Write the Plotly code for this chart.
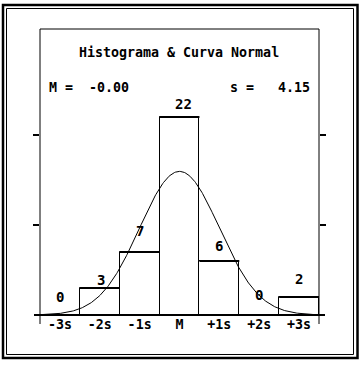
import math
import plotly.graph_objects as go

# ---- data ----
bin_labels = ["-3s", "-2s", "-1s", "M", "+1s", "+2s", "+3s"]
bin_centers = [-3, -2, -1, 0, 1, 2, 3]   # in units of s from the mean
counts = [0, 3, 7, 22, 6, 0, 2]
mean_text = "-0.00"
sd_text = "4.15"
title_text = "Histograma & Curva Normal"

# label placement tweaks (pixels)
label_yshift = [18, 8, 21, 13, 15, 20, 18]
label_xshift = [0, 1, 0, 4, 0, 0, 0]

n = sum(counts)
# normal curve scaled to the histogram (bin width = 1 s)
curve_x = [-3.5 + i * 7.0 / 400 for i in range(401)]
curve_y = [n * math.exp(-z * z / 2) / math.sqrt(2 * math.pi) for z in curve_x]

# heavier bar tops, derived from the counts
top_x, top_y = [], []
for xc, c in zip(bin_centers, counts):
    if c > 0:
        top_x += [xc - 0.5, xc + 0.5, None]
        top_y += [c, c, None]

FONT = "DejaVu Sans Mono"
W, H = 362, 365
L, R, T, B = 40, 43, 29, 50
PW, PH = W - L - R, H - T - B
YMAX = PH / 9.0

def px(xp):
    return (xp - L) / PW

def py(yp):
    return (H - B - yp) / PH

def bold(s):
    return "<b>" + s + "</b>"

fig = go.Figure()
fig.add_trace(go.Bar(
    x=bin_centers, y=counts, width=1.0,
    marker=dict(color="white", line=dict(color="black", width=1)),
    hoverinfo="skip", showlegend=False,
))
fig.add_trace(go.Scatter(
    x=top_x, y=top_y, mode="lines", connectgaps=False,
    line=dict(color="black", width=2), hoverinfo="skip", showlegend=False,
))
fig.add_trace(go.Scatter(
    x=curve_x, y=curve_y, mode="lines", yaxis="y2",
    line=dict(color="black", width=1), hoverinfo="skip", showlegend=False,
))

annotations = []
for xc, c, ys, xs in zip(bin_centers, counts, label_yshift, label_xshift):
    annotations.append(dict(
        x=xc, y=c, xref="x", yref="y", text=bold(str(c)), showarrow=False,
        yanchor="middle", xanchor="center", yshift=ys, xshift=xs,
        font=dict(family=FONT, size=14, color="black"),
    ))
annotations.append(dict(
    x=px(179), y=py(52), xref="paper", yref="paper", text=bold(title_text),
    showarrow=False, xanchor="center", yanchor="middle",
    font=dict(family=FONT, size=13.3, color="black"),
))
annotations.append(dict(
    x=px(47), y=py(87), xref="paper", yref="paper",
    text=bold("M\u00a0=\u00a0\u00a0" + mean_text),
    showarrow=False, xanchor="left", yanchor="middle",
    font=dict(family=FONT, size=13.3, color="black"),
))
annotations.append(dict(
    x=px(312), y=py(87), xref="paper", yref="paper",
    text=bold("s\u00a0=\u00a0\u00a0\u00a0" + sd_text),
    showarrow=False, xanchor="right", yanchor="middle",
    font=dict(family=FONT, size=13.3, color="black"),
))

shapes = [
    # frame of the chart
    dict(type="line", xref="paper", yref="paper", x0=0, x1=1, y0=1, y1=1,
         line=dict(color="black", width=1)),
    dict(type="line", xref="paper", yref="paper", x0=0, x1=0, y0=py(324), y1=1,
         line=dict(color="black", width=1)),
    dict(type="line", xref="paper", yref="paper", x0=1, x1=1, y0=py(324), y1=1,
         line=dict(color="black", width=1)),
    dict(type="line", xref="paper", yref="paper", x0=px(34), x1=px(325), y0=0, y1=0,
         line=dict(color="black", width=2)),
    # double page border
    dict(type="rect", xref="paper", yref="paper", x0=px(3), x1=px(357.5),
         y0=py(358), y1=py(5), line=dict(color="black", width=2.5)),
    dict(type="rect", xref="paper", yref="paper", x0=px(6.5), x1=px(353.5),
         y0=py(354.5), y1=py(8.5), line=dict(color="black", width=1)),
]

yax = dict(range=[0, YMAX], tickvals=[10, 20], ticks="outside", ticklen=6,
           tickwidth=2, tickcolor="black", showticklabels=False,
           showgrid=False, zeroline=False, showline=False, fixedrange=True)

fig.update_layout(
    width=W, height=H,
    margin=dict(l=L, r=R, t=T, b=B, pad=0),
    paper_bgcolor="white", plot_bgcolor="white",
    bargap=0,
    xaxis=dict(range=[-3.5, 3.5], tickvals=bin_centers,
               ticktext=[bold(t) for t in bin_labels],
               ticks="", showgrid=False, zeroline=False, showline=False,
               tickfont=dict(family=FONT, size=13.3, color="black")),
    yaxis=dict(side="left", **yax),
    yaxis2=dict(side="right", overlaying="y", **yax),
    annotations=annotations,
    shapes=shapes,
    showlegend=False,
)

fig.write_html("out.html", config={"displayModeBar": False},
               post_script="document.body.style.margin='0px';")
